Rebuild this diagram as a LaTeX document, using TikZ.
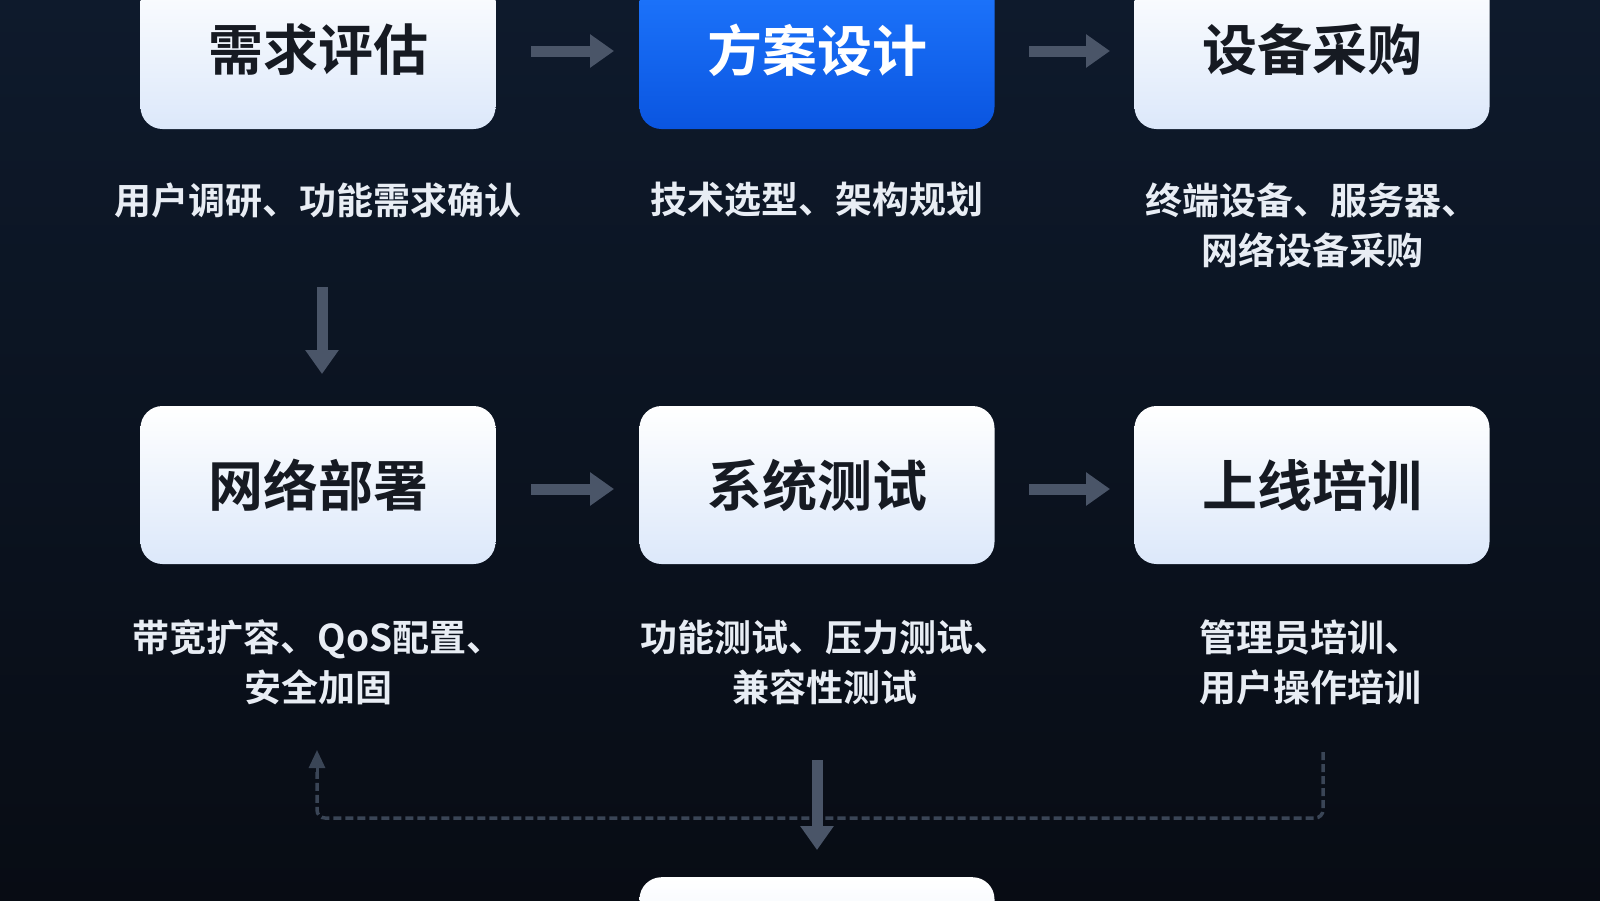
\documentclass[tikz,border=0pt]{standalone}
\usepackage{fontspec}
\setmainfont{Noto Sans CJK SC}[BoldFont={* Bold}]
\usetikzlibrary{arrows.meta}
\definecolor{bgA}{HTML}{0E1A2C}
\definecolor{bgB}{HTML}{080C14}
\definecolor{arr}{HTML}{4A5568}
\definecolor{dash}{HTML}{3A4556}
\definecolor{desc}{HTML}{E8EDF4}
\definecolor{boxT}{HTML}{FFFFFF}
\definecolor{boxB}{HTML}{DCE8FA}
\definecolor{blueA}{HTML}{1F78FF}
\definecolor{blueB}{HTML}{0A55E0}
\definecolor{ink}{HTML}{161A22}
\begin{document}
\begin{tikzpicture}[x=1pt,y=-1pt,
  box/.style={rounded corners=22pt,minimum width=355pt,minimum height=158pt,
    top color=boxT,bottom color=boxB,draw=none,
    font=\bfseries\fontsize{55}{60}\selectfont,text=ink},
  bluebox/.style={box,top color=blueA,bottom color=blueB,text=white},
  ds/.style={font=\bfseries\fontsize{37}{50}\selectfont,text=desc,align=center},
  big/.style={draw=arr,line width=11pt,-{Triangle[width=32pt,length=24pt]}},
  dsh/.style={draw=dash,line width=3.5pt,dashed,dash pattern=on 8pt off 4pt,rounded corners=8pt}]
\useasboundingbox (0,0) rectangle (1600,900);
\shade[top color=bgA,bottom color=bgB] (0,0) rectangle (1600,900);
% row 1
\node[box] (a) at (318,50) {需求评估};
\node[bluebox] (b) at (817,50) {方案设计};
\node[box] (c) at (1312,50) {设备采购};
% row 2
\node[box] (d) at (318,485) {网络部署};
\node[box] (e) at (817,485) {系统测试};
\node[box] (f) at (1312,485) {上线培训};
% bottom
\node[box,anchor=north] (g) at (817,877) {\phantom{验}};
% descriptions
\node[ds] (da) at (318,200) {用户调研、功能需求确认};
\node[ds] (db) at (817,200) {技术选型、架构规划};
\node[ds] (dc) at (1312,225) {终端设备、服务器、\\网络设备采购};
\node[ds] (dd) at (318,662) {带宽扩容、QoS配置、\\安全加固};
\node[ds] (de) at (825,662) {功能测试、压力测试、\\兼容性测试};
\node[ds] (df) at (1310,662) {管理员培训、\\用户操作培训};
% arrows
\coordinate (h1s) at (531,51); \coordinate (h1e) at (614,51);
\coordinate (h2s) at (1029,51); \coordinate (h2e) at (1110,51);
\coordinate (h3s) at (531,489); \coordinate (h3e) at (614,489);
\coordinate (h4s) at (1029,489); \coordinate (h4e) at (1110,489);
\draw[big] (h1s) -- (h1e);
\draw[big] (h2s) -- (h2e);
\draw[big] (h3s) -- (h3e);
\draw[big] (h4s) -- (h4e);
\coordinate (v1s) at (322,287); \coordinate (v1e) at (322,374);
\draw[big] (v1s) -- (v1e);
\coordinate (v2s) at (817,760); \coordinate (v2e) at (817,850);
% dashed loop
\coordinate (r1) at (1323,752);
\coordinate (l1) at (317,750);
\draw[dsh] (r1) -- (1323,818) -- (317,818) -- (317,772);
\draw[draw=dash,line width=3pt,-{Triangle[width=16pt,length=18pt]},fill=dash] (317,776) -- (l1);
\draw[big] (v2s) -- (v2e);
\end{tikzpicture}
\end{document}
